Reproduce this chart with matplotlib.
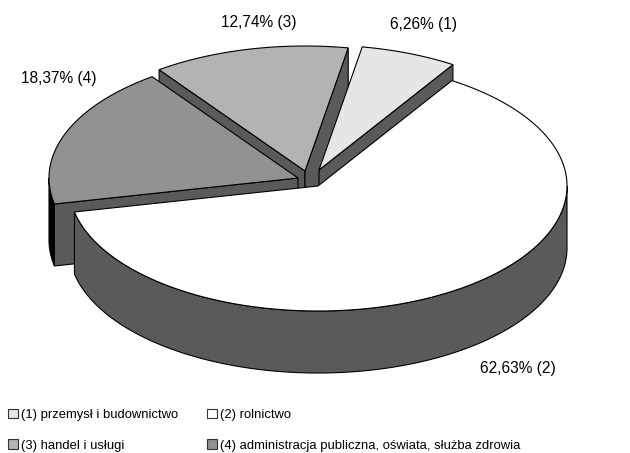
import numpy as np
import matplotlib
matplotlib.use("Agg")
import matplotlib.pyplot as plt
from matplotlib.patches import Patch

plt.rcParams["font.family"] = ["Liberation Sans", "DejaVu Sans"]

# dane
numery = [1, 2, 3, 4]
nazwy = ["przemysł i budownictwo", "rolnictwo", "handel i usługi",
         "administracja publiczna, oświata, służba zdrowia"]
procenty = [6.26, 62.63, 12.74, 18.37]
kolory = ["#E6E6E6", "#FFFFFF", "#B3B3B3", "#929292"]

# kolejnosc wycinkow na kole, zgodnie z ruchem wskazowek zegara
na_kole = [1, 2, 4, 3]

# srodki wycinkow (piksele), polozenia etykiet
srodki = {1: (319, 170), 2: (318, 186), 3: (305, 171), 4: (298, 178)}
etykiety_xy = {1: (424, 24), 2: (518, 368), 3: (259, 22), 4: (59, 79)}

A, B = 249, 125
GLEBOKOSC = 62
START = 80.0
SCIANA = "#5A5A5A"
LW = 0.8

katy = {}
kat = START
for n in na_kole:
    p = procenty[numery.index(n)]
    katy[n] = (kat, kat - p * 3.6)
    kat -= p * 3.6


def luk(n, od=None, do=None, dy=0):
    t1, t2 = katy[n]
    t1 = t1 if od is None else od
    t2 = t2 if do is None else do
    t = np.radians(np.linspace(t1, t2, 200))
    cx, cy = srodki[n]
    return cx + A * np.cos(t), cy - B * np.sin(t) + dy


def powierzchnia(ax, n, kolor):
    x, y = luk(n)
    cx, cy = srodki[n]
    ax.fill(np.r_[cx, x], np.r_[cy, y], fc=kolor, ec="k", lw=LW)


def sciana_radialna(ax, n, koniec):
    # koniec: 0 - poczatek wycinka, 1 - koniec wycinka
    cx, cy = srodki[n]
    t = np.radians(katy[n][koniec])
    x = cx + A * np.cos(t)
    y = cy - B * np.sin(t)
    ax.fill([cx, x, x, cx], [cy, y, y + GLEBOKOSC, cy + GLEBOKOSC],
            fc=SCIANA, ec="k", lw=LW)


def bok(ax, n, od, do, kolor):
    x1, y1 = luk(n, od, do)
    x2, y2 = luk(n, od, do, dy=GLEBOKOSC)
    ax.fill(np.r_[x1, x2[::-1]], np.r_[y1, y2[::-1]], fc=kolor, ec="k", lw=LW)


fig = plt.figure(figsize=(6.3, 4.53), dpi=100)
ax = fig.add_axes([0, 0, 1, 1])
ax.set_xlim(0, 630)
ax.set_ylim(453, 0)
ax.axis("off")

# od tylu do przodu
sciana_radialna(ax, 3, 0)
sciana_radialna(ax, 3, 1)
powierzchnia(ax, 3, kolory[2])
sciana_radialna(ax, 1, 1)
powierzchnia(ax, 1, kolory[0])
bok(ax, 4, katy[4][0], -180, "#000000")
sciana_radialna(ax, 4, 0)
powierzchnia(ax, 4, kolory[3])
bok(ax, 2, 0, katy[2][1], SCIANA)
powierzchnia(ax, 2, kolory[1])

for n, p in zip(numery, procenty):
    tekst = f"{p:.2f}".replace(".", ",") + f"% ({n})"
    ax.text(*etykiety_xy[n], tekst, ha="center", va="center", fontsize=11.2)

# legenda, kolumny wypelniane po kolei
kolejnosc = [0, 2, 1, 3]
uchwyty = [Patch(fc=kolory[i], ec="#333333", lw=LW) for i in kolejnosc]
opisy = [f"({numery[i]}) {nazwy[i]}" for i in kolejnosc]
ax.legend(uchwyty, opisy, ncol=2, frameon=False, fontsize=9.4,
          loc="upper left", bbox_to_anchor=(8, 408.5), bbox_transform=ax.transData,
          borderpad=0, borderaxespad=0, handlelength=0.8, handleheight=0.8,
          handletextpad=0.2, columnspacing=2.2, labelspacing=1.4)

fig.savefig("out.png", dpi=100)
